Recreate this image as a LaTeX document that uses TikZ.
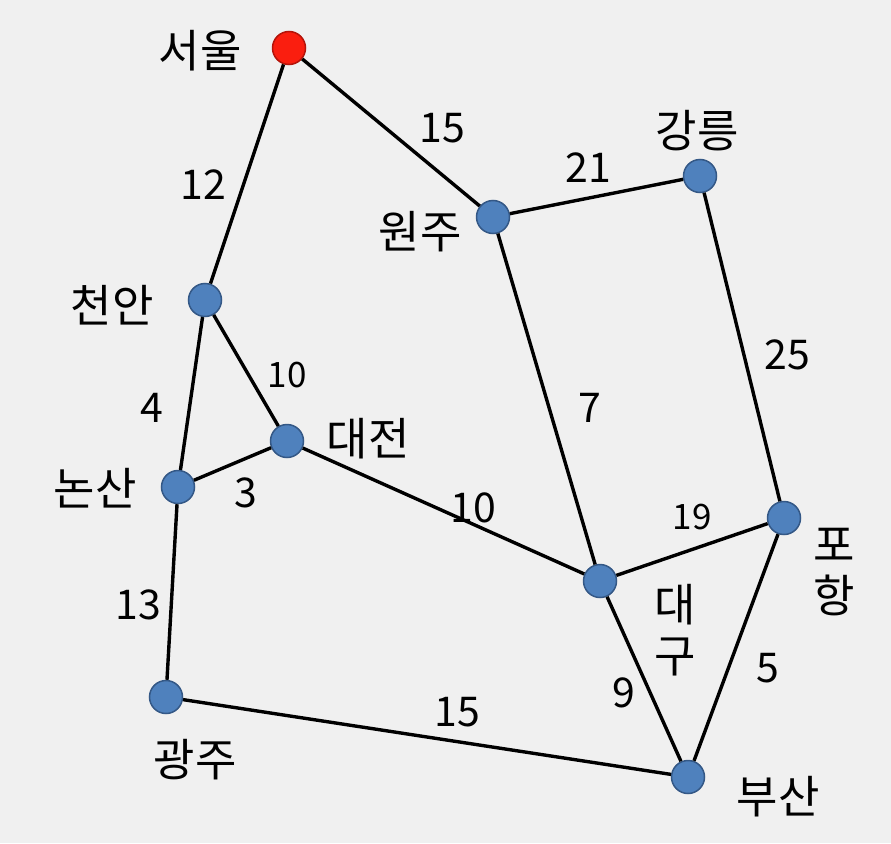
\documentclass[tikz,border=0pt]{standalone}
\usepackage{fontspec}
\setmainfont{Noto Sans CJK KR}
\definecolor{cityfill}{RGB}{79,129,189}
\definecolor{cityline}{RGB}{52,88,134}
\definecolor{startfill}{RGB}{250,30,15}
\definecolor{startline}{RGB}{180,20,10}
\definecolor{paper}{RGB}{240,240,240}
\begin{document}
\begin{tikzpicture}[x=1pt, y=-1pt,
  city/.style={circle, draw=cityline, fill=cityfill, line width=1.5pt, minimum size=33pt, inner sep=0pt},
  road/.style={line width=3.4pt, black},
  townname/.style={inner sep=0pt, font=\fontsize{45}{51}\selectfont, align=center},
  cost/.style={inner sep=0pt, font=\fontsize{41}{48}\selectfont},
  smallcost/.style={inner sep=0pt, font=\fontsize{35}{40}\selectfont}]
\fill [paper] (0, 0) rectangle (891, 843);

% cities
\node [city, draw=startline, fill=startfill] (seoul) at (289, 48) {};
\node [city] (wonju) at (493, 217) {};
\node [city] (gangneung) at (700, 176) {};
\node [city] (cheonan) at (205, 300) {};
\node [city] (daejeon) at (287, 441) {};
\node [city] (nonsan) at (178, 487) {};
\node [city] (daegu) at (600, 581) {};
\node [city] (pohang) at (784, 518) {};
\node [city] (gwangju) at (166, 697) {};
\node [city] (busan) at (688, 777) {};

% roads
\draw [road] (seoul) -- (cheonan);
\draw [road] (seoul) -- (wonju);
\draw [road] (wonju) -- (gangneung);
\draw [road] (wonju) -- (daegu);
\draw [road] (gangneung) -- (pohang);
\draw [road] (cheonan) -- (daejeon);
\draw [road] (cheonan) -- (nonsan);
\draw [road] (nonsan) -- (daejeon);
\draw [road] (daejeon) -- (daegu);
\draw [road] (nonsan) -- (gwangju);
\draw [road] (gwangju) -- (busan);
\draw [road] (daegu) -- (pohang);
\draw [road] (daegu) -- (busan);
\draw [road] (pohang) -- (busan);

% city names
\node [townname] (seoul-t) at (200, 51) {서울};
\node [townname] (gangneung-t) at (697, 131) {강릉};
\node [townname] (wonju-t) at (420, 232) {원주};
\node [townname] (cheonan-t) at (112, 305) {천안};
\node [townname] (daejeon-t) at (368, 439) {대전};
\node [townname] (nonsan-t) at (95, 488) {논산};
\node [townname] (daegu-t) at (675, 630) {대\\구};
\node [townname] (pohang-t) at (834, 572) {포\\항};
\node [townname] (gwangju-t) at (195, 760) {광주};
\node [townname] (busan-t) at (778, 797) {부산};

% costs
\node [cost] (c12) at (203, 185) {12};
\node [cost] (c15a) at (442, 128) {15};
\node [cost] (c21) at (588, 168) {21};
\node [smallcost] (c10a) at (287, 375) {10};
\node [cost] (c3) at (246, 493) {3};
\node [cost] (c4) at (152, 408) {4};
\node [cost] (c10b) at (473, 508) {10};
\node [cost] (c7) at (590, 408) {7};
\node [cost] (c25) at (787, 355) {25};
\node [smallcost] (c19) at (692, 517) {19};
\node [cost] (c13) at (138, 605) {13};
\node [cost] (c15b) at (457, 712) {15};
\node [cost] (c9) at (624, 693) {9};
\node [cost] (c5) at (768, 668) {5};
\end{tikzpicture}
\end{document}
